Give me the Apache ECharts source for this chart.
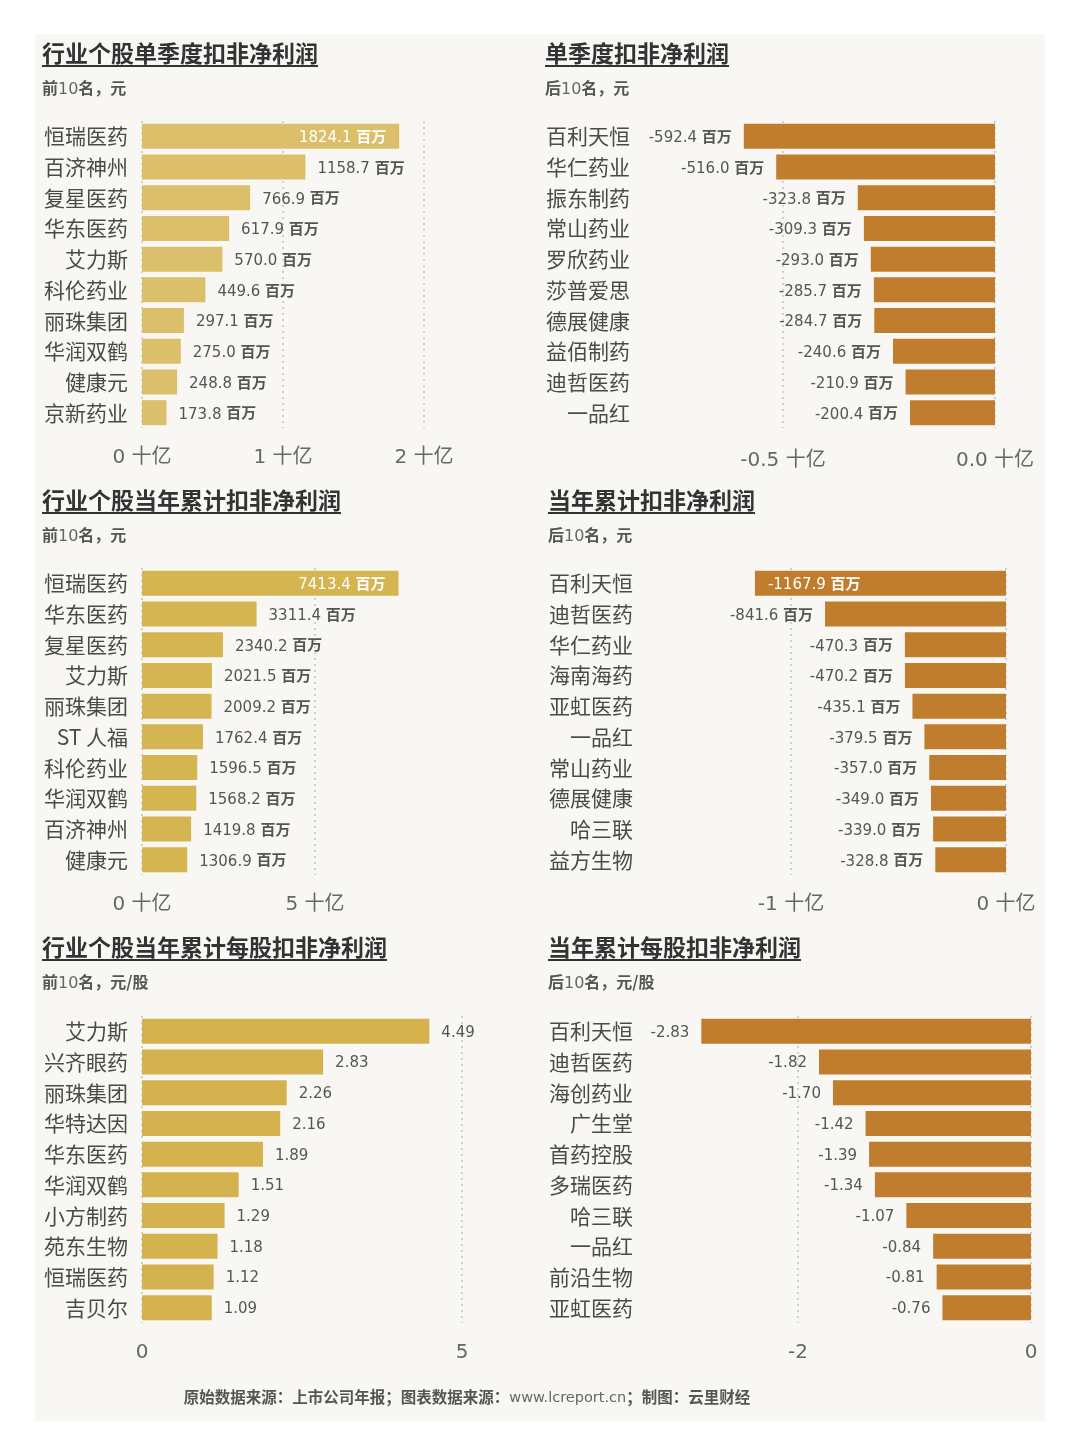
<!DOCTYPE html>
<html lang="zh">
<head>
<meta charset="UTF-8">
<title>医药个股扣非净利润排名</title>
<script src="https://cdn.jsdelivr.net/npm/echarts@6.0.0/dist/echarts.min.js"></script>
<style>
    html, body { margin: 0; padding: 0; background: #fff; }
    #container { width: 1080px; height: 1455px; }
</style>
</head>
<body>
<div id="container"></div>
<script>
    // 单季度扣非净利润，百万元
    var qTopNames = ['恒瑞医药', '百济神州', '复星医药', '华东医药', '艾力斯', '科伦药业', '丽珠集团', '华润双鹤', '健康元', '京新药业'];
    var qTopValues = [1824.1, 1158.7, 766.9, 617.9, 570.0, 449.6, 297.1, 275.0, 248.8, 173.8];
    var qBottomNames = ['百利天恒', '华仁药业', '振东制药', '常山药业', '罗欣药业', '莎普爱思', '德展健康', '益佰制药', '迪哲医药', '一品红'];
    var qBottomValues = [-592.4, -516.0, -323.8, -309.3, -293.0, -285.7, -284.7, -240.6, -210.9, -200.4];

    // 当年累计扣非净利润，百万元
    var yTopNames = ['恒瑞医药', '华东医药', '复星医药', '艾力斯', '丽珠集团', 'ST 人福', '科伦药业', '华润双鹤', '百济神州', '健康元'];
    var yTopValues = [7413.4, 3311.4, 2340.2, 2021.5, 2009.2, 1762.4, 1596.5, 1568.2, 1419.8, 1306.9];
    var yBottomNames = ['百利天恒', '迪哲医药', '华仁药业', '海南海药', '亚虹医药', '一品红', '常山药业', '德展健康', '哈三联', '益方生物'];
    var yBottomValues = [-1167.9, -841.6, -470.3, -470.2, -435.1, -379.5, -357.0, -349.0, -339.0, -328.8];

    // 当年累计每股扣非净利润，元/股
    var epsTopNames = ['艾力斯', '兴齐眼药', '丽珠集团', '华特达因', '华东医药', '华润双鹤', '小方制药', '苑东生物', '恒瑞医药', '吉贝尔'];
    var epsTopValues = [4.49, 2.83, 2.26, 2.16, 1.89, 1.51, 1.29, 1.18, 1.12, 1.09];
    var epsBottomNames = ['百利天恒', '迪哲医药', '海创药业', '广生堂', '首药控股', '多瑞医药', '哈三联', '一品红', '前沿生物', '亚虹医药'];
    var epsBottomValues = [-2.83, -1.82, -1.70, -1.42, -1.39, -1.34, -1.07, -0.84, -0.81, -0.76];

    var titles = ['行业个股单季度扣非净利润', '单季度扣非净利润', '行业个股当年累计扣非净利润', '当年累计扣非净利润', '行业个股当年累计每股扣非净利润', '当年累计每股扣非净利润'];
    var subtitles = [['前', '10', '名，元'], ['后', '10', '名，元'], ['前', '10', '名，元'], ['后', '10', '名，元'], ['前', '10', '名，元/股'], ['后', '10', '名，元/股']];

    var FONT = '"Noto Sans CJK SC", "Noto Sans", sans-serif';
    var NUMFONT = '"DejaVu Sans", "Noto Sans CJK SC", sans-serif';
    var GOLD1 = '#dbbf6b', GOLD2 = '#d5b552', GOLD3 = '#d4b34e', BROWN = '#c07d2e';

    var chart = echarts.init(document.getElementById('container'));

    // 面板位置
    var grids = [
        {left: 142, top: 121, width: 282, height: 307},
        {left: 571, top: 121, width: 424, height: 307},
        {left: 142, top: 568, width: 259.5, height: 307},
        {left: 576, top: 568, width: 430, height: 307},
        {left: 142, top: 1016, width: 320, height: 307},
        {left: 565, top: 1016, width: 466, height: 307}
    ];
    grids.forEach(function (g) {
        g.containLabel = false;
        g.outerBoundsMode = 'none';
    });

    var axisSpecs = [
        {min: 0, max: 2000, interval: 1000, fmt: function (v) { return (v / 1000) + ' 十亿'; }, margin: 20},
        {min: -1000, max: 0, interval: 500, fmt: function (v) { return (v / 1000).toFixed(1) + ' 十亿'; }, margin: 23},
        {min: 0, max: 7500, interval: 5000, fmt: function (v) { return (v / 1000) + ' 十亿'; }, margin: 20},
        {min: -2000, max: 0, interval: 1000, fmt: function (v) { return (v / 1000) + ' 十亿'; }, margin: 20},
        {min: 0, max: 5, interval: 5, fmt: function (v) { return v; }, margin: 20},
        {min: -4, max: 0, interval: 2, fmt: function (v) { return v; }, margin: 20}
    ];

    var xAxes = axisSpecs.map(function (s, i) {
        return {
            type: 'value',
            gridIndex: i,
            min: s.min,
            max: s.max,
            interval: s.interval,
            axisLine: {show: false},
            axisTick: {show: false},
            axisLabel: {
                formatter: s.fmt,
                fontSize: 20,
                color: '#666',
                fontFamily: NUMFONT,
                margin: s.margin,
                showMinLabel: s.min === 0,
                showMaxLabel: i !== 2
            },
            splitLine: {
                show: true,
                showMinLine: s.min === 0,
                showMaxLine: i !== 2,
                lineStyle: {type: [2, 4], color: '#c4c4c4', width: 1.5}
            }
        };
    });

    var nameLists = [qTopNames, qBottomNames, yTopNames, yBottomNames, epsTopNames, epsBottomNames];
    var labelMargins = [14, -59, 14, -57, 14, -68];
    var yAxes = nameLists.map(function (names, i) {
        return {
            type: 'category',
            gridIndex: i,
            data: names,
            inverse: true,
            axisLine: {show: false},
            axisTick: {show: false},
            splitLine: {show: false},
            axisLabel: {
                fontSize: 21,
                color: '#4a4a4a',
                fontFamily: FONT,
                margin: labelMargins[i]
            }
        };
    });

    function richFor(color) {
        return {
            n: {fontSize: 15, color: color, fontFamily: NUMFONT, padding: [4, 0, 0, 0]},
            u: {fontSize: 15, color: color, fontFamily: FONT, fontWeight: 'bold'}
        };
    }

    function moneyFmt(p) {
        return '{n|' + p.value.toFixed(1) + '} {u|百万}';
    }

    function epsFmt(p) {
        return p.value.toFixed(2);
    }

    function makeSeries(i, values, color, isMoney, firstInside) {
        var neg = values[0] < 0;
        return {
            type: 'bar',
            xAxisIndex: i,
            yAxisIndex: i,
            barWidth: 25,
            itemStyle: {color: color},
            label: {
                show: true,
                position: neg ? 'left' : 'right',
                distance: 12,
                fontSize: 15,
                color: '#555',
                fontFamily: NUMFONT,
                padding: isMoney ? 0 : [3, 0, 0, 0],
                formatter: isMoney ? moneyFmt : epsFmt,
                rich: richFor('#555')
            },
            data: values.map(function (v, k) {
                if (k === 0 && firstInside) {
                    return {
                        value: v,
                        label: {
                            position: firstInside,
                            distance: 13,
                            color: '#fff',
                            rich: richFor('#fff')
                        }
                    };
                }
                return v;
            })
        };
    }

    var series = [
        makeSeries(0, qTopValues, GOLD1, true, 'insideRight'),
        makeSeries(1, qBottomValues, BROWN, true, null),
        makeSeries(2, yTopValues, GOLD2, true, 'insideRight'),
        makeSeries(3, yBottomValues, BROWN, true, 'insideLeft'),
        makeSeries(4, epsTopValues, GOLD3, false, null),
        makeSeries(5, epsBottomValues, BROWN, false, null)
    ];

    // 标题、副标题、下划线
    var titlePos = [[42, 53], [545, 53], [42, 500], [548, 500], [42, 947], [548, 947]];
    var graphics = [{
        type: 'rect',
        z: -10,
        shape: {x: 35, y: 34, width: 1010, height: 1387},
        style: {fill: '#f9f7f4'}
    }];
    titles.forEach(function (t, i) {
        var p = titlePos[i];
        var sub = subtitles[i];
        graphics.push({
            type: 'text',
            x: p[0], y: p[1],
            style: {text: t, fontSize: 23, fontWeight: 'bold', fontFamily: FONT, fill: '#333', align: 'left', verticalAlign: 'middle'}
        });
        graphics.push({
            type: 'line',
            shape: {x1: p[0], y1: p[1] + 13, x2: p[0] + t.length * 23, y2: p[1] + 13},
            style: {stroke: '#333', lineWidth: 2}
        });
        graphics.push({
            type: 'text',
            x: p[0], y: p[1] + 35,
            style: {
                text: '{c|' + sub[0] + '}{d|' + sub[1] + '}{c|' + sub[2] + '}',
                align: 'left', verticalAlign: 'middle',
                rich: {
                    c: {fontSize: 16, fontWeight: 'bold', fontFamily: FONT, fill: '#555'},
                    d: {fontSize: 16, fontFamily: NUMFONT, fill: '#666', padding: [4, 0, 0, 0]}
                }
            }
        });
    });
    graphics.push({
        type: 'text',
        x: 467, y: 1397,
        style: {
            text: '{b|原始数据来源：上市公司年报；图表数据来源：}{u|www.lcreport.cn}{b|；制图：云里财经}',
            align: 'center', verticalAlign: 'middle',
            rich: {
                b: {fontSize: 15.5, fontWeight: 'bold', fontFamily: FONT, fill: '#555'},
                u: {fontSize: 14.5, fontFamily: NUMFONT, fill: '#666', padding: [3, 0, 0, 0]}
            }
        }
    });

    var option = {
        backgroundColor: '#fff',
        animation: false,
        textStyle: {fontFamily: FONT},
        grid: grids,
        xAxis: xAxes,
        yAxis: yAxes,
        series: series,
        graphic: graphics
    };

    chart.setOption(option);
</script>
</body>
</html>
